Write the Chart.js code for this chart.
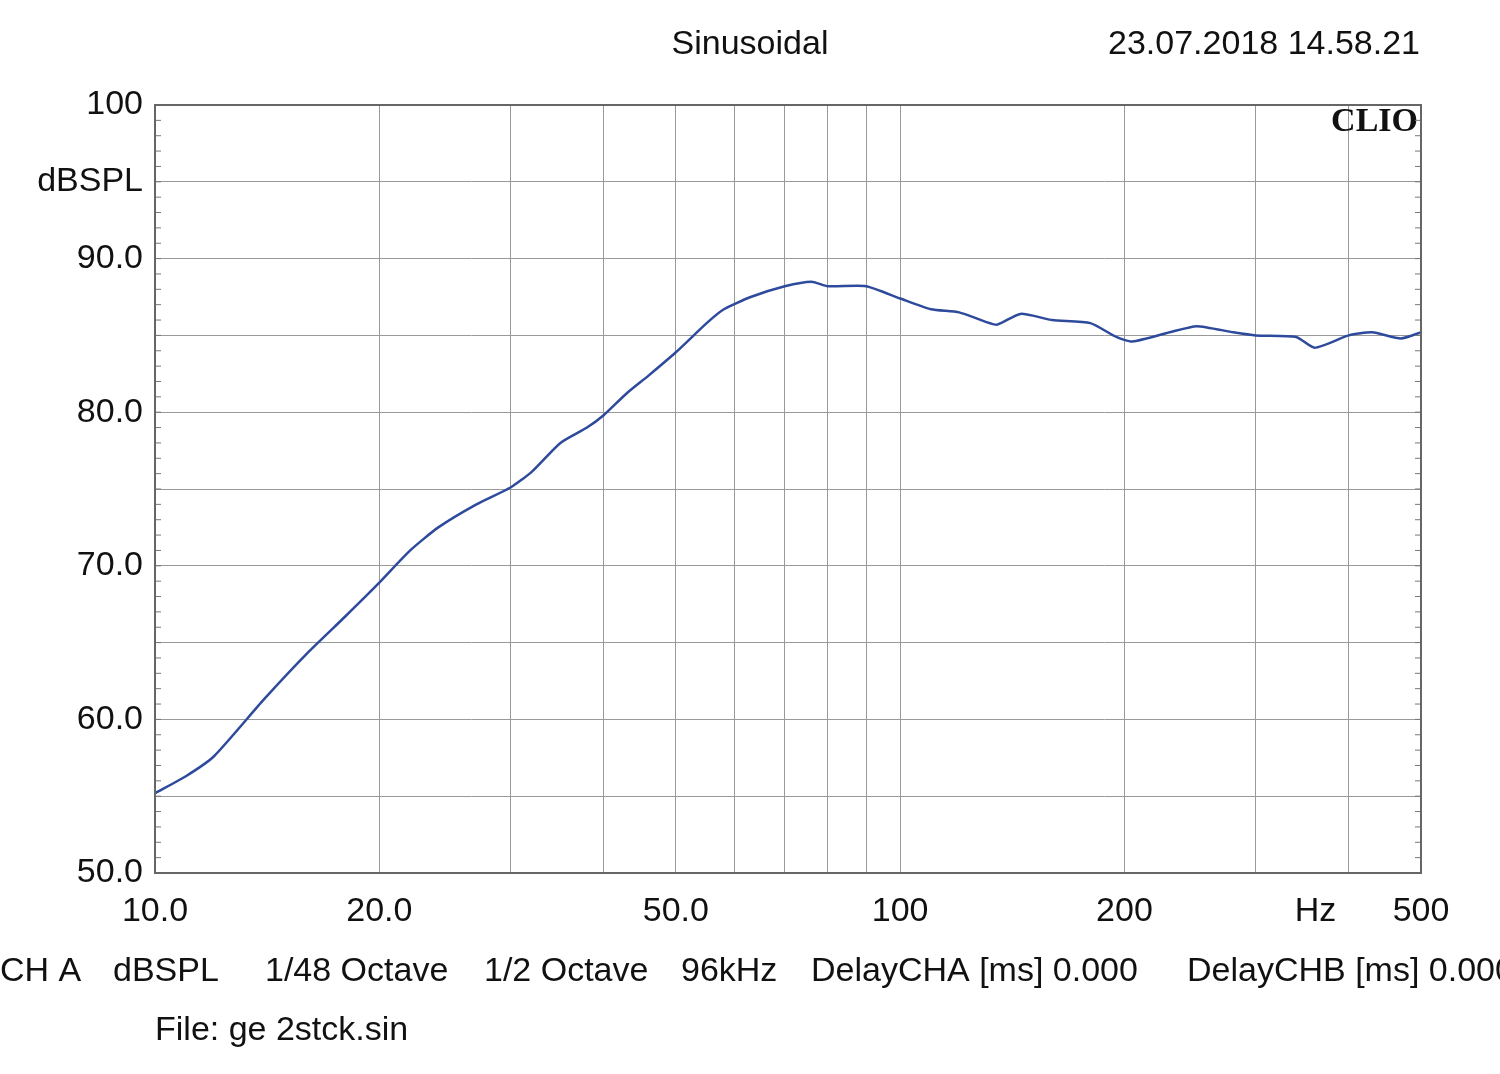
<!DOCTYPE html>
<html><head><meta charset="utf-8">
<script src="https://cdn.jsdelivr.net/npm/chart.js@4"></script>
<style>html,body{margin:0;padding:0;background:#fff}#w{width:1500px;height:1074px}</style>
</head><body><div id="w"><canvas id="c"></canvas></div>
<script>
const freqs=[10,11,12,14,16,18,20,22,24,27,30,32,35,38,40,43,46,50,55,58,63,70,76,80,90,100,110,120,130,135,145,160,180,195,205,230,250,280,300,340,360,400,430,470,500];
const spl=[55.2,56.3,57.6,61.3,64.3,66.7,68.9,71.0,72.5,74.0,75.1,76.1,78.0,79.0,79.8,81.25,82.4,83.9,85.8,86.7,87.5,88.2,88.5,88.2,88.2,87.4,86.7,86.5,85.9,85.7,86.4,86.0,85.8,84.9,84.6,85.2,85.6,85.2,85.0,84.9,84.2,85.0,85.2,84.8,85.2];
const xGrid=[10,20,30,40,50,60,70,80,90,100,200,300,400,500];
const xLabels=[[10,"10.0"],[20,"20.0"],[50,"50.0"],[100,"100"],[200,"200"],[361,"Hz"],[500,"500"]];
const yLabels=[[100,"100"],[95,"dBSPL"],[90,"90.0"],[80,"80.0"],[70,"70.0"],[60,"60.0"],[50,"50.0"]];
const footer=[[0,"CH A"],[113,"dBSPL"],[265,"1/48 Octave"],[484,"1/2 Octave"],[681,"96kHz"],[811,"DelayCHA [ms] 0.000"],[1187,"DelayCHB [ms] 0.000"]];
const FONT='"Liberation Sans", Arial, sans-serif';
const deco={id:'deco',afterDraw(ch){
 const c=ch.ctx,x=ch.scales.x,y=ch.scales.y,a=ch.chartArea;
 c.save();c.fillStyle='#111';c.font='34px '+FONT;c.textBaseline='middle';
 c.textAlign='center';
 xLabels.forEach(([v,t])=>c.fillText(t,x.getPixelForValue(v),912));
 c.textAlign='right';
 yLabels.forEach(([v,t])=>c.fillText(t,143,y.getPixelForValue(v)));
 c.textAlign='center';c.fillText('Sinusoidal',750,45);
 c.textAlign='right';c.fillText('23.07.2018 14.58.21',1420,45);
 c.textAlign='left';
 footer.forEach(([px,t])=>c.fillText(t,px,972));
 c.fillText('File: ge 2stck.sin',155,1031);
 c.font='bold 34px "Liberation Serif", serif';c.textAlign='right';c.fillText('CLIO',1418,122);
 c.strokeStyle='#777';c.lineWidth=1;
 for(let v=50;v<=100;v++){const p=y.getPixelForValue(v);c.beginPath();c.moveTo(a.left,p);c.lineTo(a.left+6,p);c.moveTo(a.right,p);c.lineTo(a.right-6,p);c.stroke();}
 c.strokeStyle='#666';c.lineWidth=2;c.strokeRect(a.left,a.top,a.right-a.left,a.bottom-a.top);
 c.restore();}};
new Chart(document.getElementById('c'),{type:'line',
 data:{datasets:[{data:freqs.map((f,i)=>({x:f,y:spl[i]})),borderColor:'#2e4a9c',borderWidth:2.5,pointRadius:0,tension:0.2,fill:false}]},
 options:{responsive:true,maintainAspectRatio:false,animation:false,
  layout:{padding:{left:155,right:79,top:105,bottom:201}},
  plugins:{legend:{display:false},tooltip:{enabled:false}},
  scales:{
   x:{type:'logarithmic',min:10,max:500,afterBuildTicks:s=>{s.ticks=xGrid.map(v=>({value:v}));},
      ticks:{display:false},grid:{color:'#999',lineWidth:1,drawTicks:false},border:{display:false}},
   y:{min:50,max:100,afterBuildTicks:s=>{const t=[];for(let v=50;v<=100;v+=5)t.push({value:v});s.ticks=t;},
      ticks:{display:false},grid:{color:'#999',lineWidth:1,drawTicks:false},border:{display:false}}}},
 plugins:[deco]});
</script></body></html>
